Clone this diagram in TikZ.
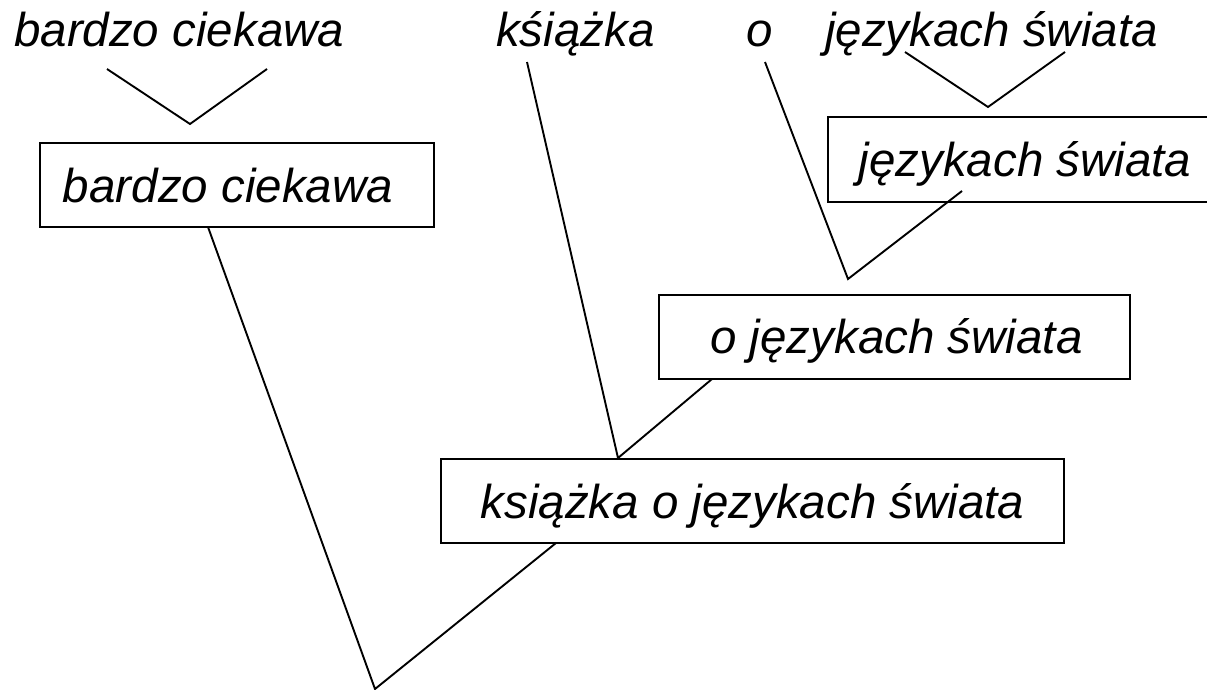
\documentclass[tikz,border=0pt]{standalone}
\usepackage{fontspec}
\setmainfont{Liberation Sans}
\begin{document}
\begin{tikzpicture}[x=1pt,y=-1pt,
  lbl/.style={font=\fontsize{47.5}{57}\selectfont\itshape, inner sep=0pt, anchor=base west},
  box/.style={draw, line width=2pt, inner xsep=0pt, inner ysep=0pt, minimum height=84pt,
              text height=59pt, text depth=25pt, font=\fontsize{47.5}{57}\selectfont\itshape},
  con/.style={line width=1.9pt}]
\useasboundingbox (0,0) rectangle (1207,690);
\clip (0,0) rectangle (1207,690);
\fill[white] (0,0) rectangle (1207,690);
% top words
\node[lbl] (tbc) at (14,47) {bardzo ciekawa};
\node[lbl] (tks) at (496,47) {kśiążka};
\node[lbl] (to) at (746,47) {o};
\node[lbl] (tjs) at (825,47) {językach świata};
% boxes
\node[box, minimum width=394pt] (bcbox) at (237,185) {\hspace*{-18pt}bardzo ciekawa};
\node[box, minimum width=394pt] (jsbox) at (1025,159.5) {językach świata};
\node[box, minimum width=471pt] (ojbox) at (894.5,336.5) {\hspace*{4pt}o językach świata};
\node[box, minimum width=623pt] (kobox) at (752.5,501) {książka o językach świata};
% connector end points
\coordinate (a1) at (107,69);  \coordinate (a2) at (267,69);  \coordinate (va) at (190,124);
\coordinate (b1) at (905,52);  \coordinate (b2) at (1065,52); \coordinate (vb) at (988,107);
\coordinate (c1) at (765,62);  \coordinate (c2) at (962,191); \coordinate (vc) at (848,279);
\coordinate (d1) at (527,62);  \coordinate (d2) at (712,379); \coordinate (vd) at (618,458);
\coordinate (e1) at (208,227); \coordinate (e2) at (556,543); \coordinate (ve) at (375,689);
% connectors
\draw[con] (a1) -- (va) -- (a2);
\draw[con] (b1) -- (vb) -- (b2);
\draw[con] (c1) -- (vc) -- (c2);
\draw[con] (d1) -- (vd) -- (d2);
\draw[con] (e1) -- (ve) -- (e2);
\end{tikzpicture}
\end{document}
